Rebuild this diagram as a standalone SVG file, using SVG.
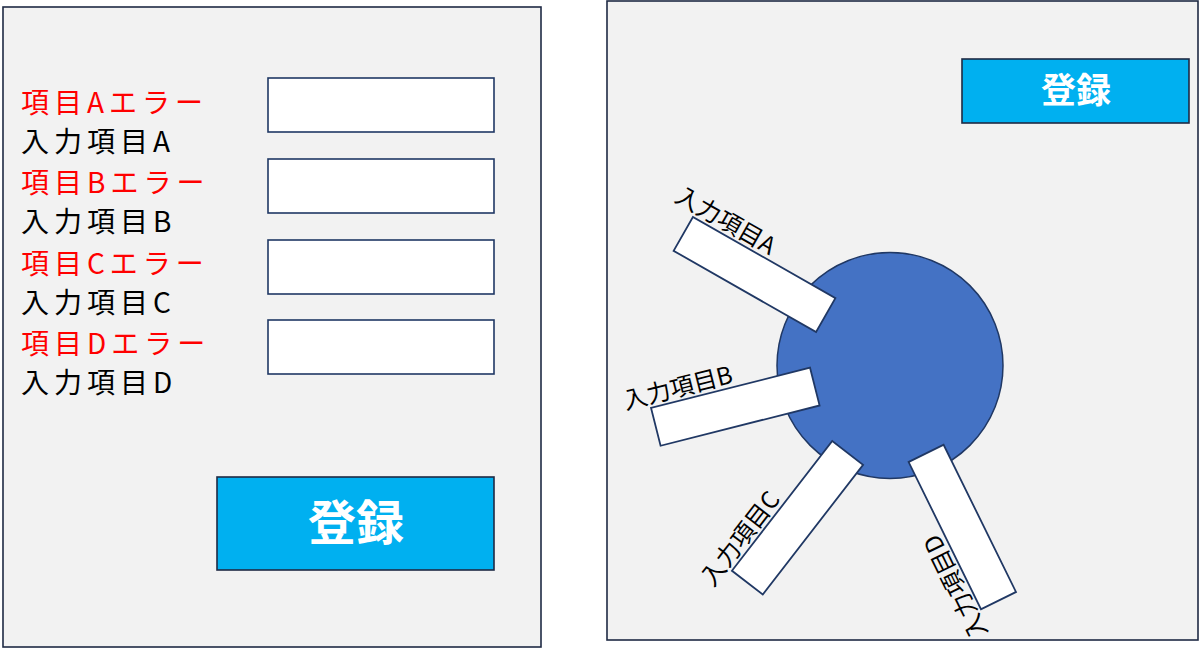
<svg xmlns="http://www.w3.org/2000/svg" width="1200" height="663" viewBox="0 0 1200 663">
<style>
.panel{fill:#F2F2F2;stroke:#1F2A44;stroke-width:1.6}
.input{fill:#FFFFFF;stroke:#203864;stroke-width:1.6}
.btn{fill:#00B0F0;stroke:#1F2A44;stroke-width:1.6}
.btntext{font-family:"Noto Sans CJK JP","Noto Sans",sans-serif;font-weight:bold;fill:#FFFFFF;text-anchor:middle}
.err{font-family:"Noto Sans CJK JP","Noto Sans",sans-serif;font-size:28px;letter-spacing:5px;fill:#FF0000}
.lbl{font-family:"Noto Sans CJK JP","Noto Sans",sans-serif;font-size:28px;letter-spacing:5px;fill:#000000}
.rlbl{font-family:"Noto Sans CJK JP","Noto Sans",sans-serif;font-size:24px;fill:#000000}
.hub{fill:#4472C4;stroke:#203864;stroke-width:1.5}
.bar{fill:#FFFFFF;stroke:#203864;stroke-width:1.8}
</style>
<rect width="1200" height="663" fill="#FFFFFF"/>

<g id="left-panel">
  <rect class="panel" x="3" y="7" width="538" height="640"/>
</g>
<g id="field-A">
  <text class="err" x="21" y="113">項目Aエラー</text>
  <text class="lbl" x="21" y="152">入力項目A</text>
  <rect class="input" x="268" y="78" width="226" height="54"/>
</g>
<g id="field-B">
  <text class="err" x="21" y="193">項目Bエラー</text>
  <text class="lbl" x="21" y="232">入力項目B</text>
  <rect class="input" x="268" y="159" width="226" height="54"/>
</g>
<g id="field-C">
  <text class="err" x="21" y="274">項目Cエラー</text>
  <text class="lbl" x="21" y="313">入力項目C</text>
  <rect class="input" x="268" y="240" width="226" height="54"/>
</g>
<g id="field-D">
  <text class="err" x="21" y="354">項目Dエラー</text>
  <text class="lbl" x="21" y="393">入力項目D</text>
  <rect class="input" x="268" y="320" width="226" height="54"/>
</g>
<g id="register-left">
  <rect class="btn" x="217" y="477" width="277" height="93"/>
  <text class="btntext" x="356" y="540" font-size="48">登録</text>
</g>

<g id="right-panel">
  <rect class="panel" x="607" y="1" width="591" height="639"/>
</g>
<g id="register-right">
  <rect class="btn" x="962" y="59" width="227" height="64"/>
  <text class="btntext" x="1076" y="103" font-size="35">登録</text>
</g>
<g id="hub">
  <circle class="hub" cx="890" cy="365.5" r="113"/>
</g>
<g id="bar-A" transform="translate(754.5,274.5) rotate(29.7)">
  <rect class="bar" x="-82" y="-19.5" width="164" height="39"/>
  <text class="rlbl" x="-107" y="-24">入力項目A</text>
</g>
<g id="bar-B" transform="translate(735.3,406.7) rotate(-14.2)">
  <rect class="bar" x="-82" y="-19.5" width="164" height="39"/>
  <text class="rlbl" x="-107" y="-24">入力項目B</text>
</g>
<g id="bar-C" transform="translate(797.5,517.8) rotate(-52.3)">
  <rect class="bar" x="-82" y="-19.5" width="164" height="39"/>
  <text class="rlbl" x="-107" y="-24">入力項目C</text>
</g>
<g id="bar-D" transform="translate(962.3,527) rotate(243.8)">
  <rect class="bar" x="-82" y="-19.5" width="164" height="39"/>
  <text class="rlbl" x="-107" y="-24">入力項目D</text>
</g>
<g id="connectors"/>
</svg>
